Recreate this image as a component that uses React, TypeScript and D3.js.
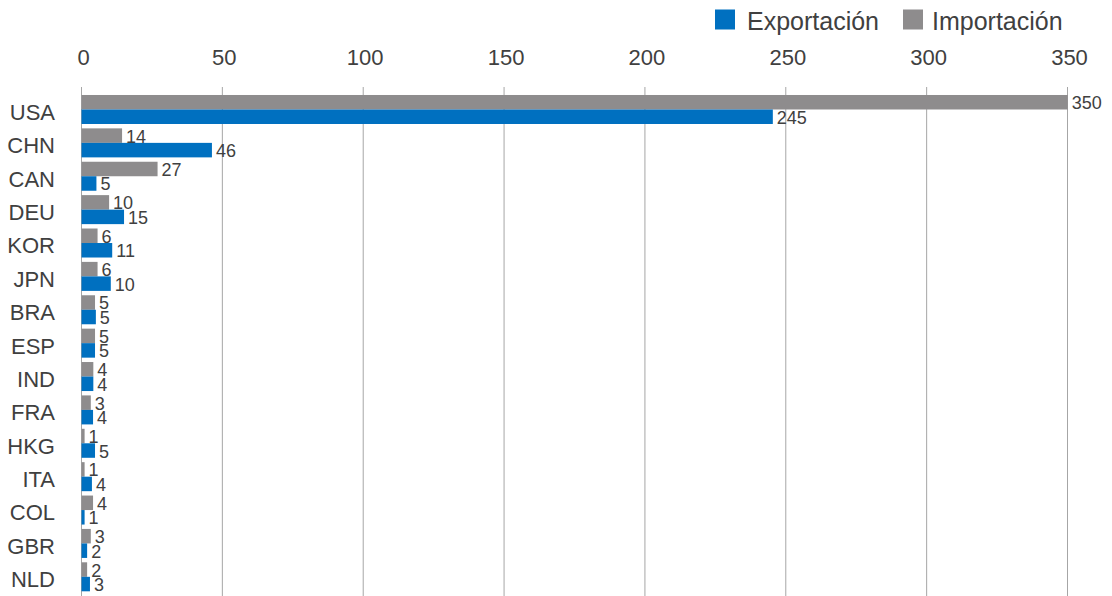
import React from "react";
import * as d3 from "d3";

const categories = ["USA", "CHN", "CAN", "DEU", "KOR", "JPN", "BRA", "ESP", "IND", "FRA", "HKG", "ITA", "COL", "GBR", "NLD"];
const importacion = [350.1, 14.4, 27.0, 9.8, 5.7, 5.7, 4.8, 4.8, 4.2, 3.3, 1.1, 1.1, 4.1, 3.3, 2.0];
const exportacion = [245.4, 46.3, 5.3, 15.1, 10.9, 10.4, 5.1, 4.8, 4.2, 4.1, 4.8, 3.7, 1.1, 2.0, 3.0];
const xTicks = [0, 50, 100, 150, 200, 250, 300, 350];
const seriesNames = ["Exportación", "Importación"];

const W = 1112;
const H = 596;
const BLUE = "#0070C0";
const GREY = "#8E8C8D";
const TEXT = "#404040";
const GRID = "#A6A6A6";
const FONT = "'Liberation Sans', Arial, sans-serif";

export default function App() {
  const x = d3.scaleLinear().domain([0, 350]).range([81.5, 1067.5]);
  const y = d3.scaleBand<string>().domain(categories).range([92.8, 92.8 + 15 * 33.38]).paddingInner(0.131).paddingOuter(0.0655);
  const sub = d3.scaleBand<string>().domain(["imp", "exp"]).range([0, y.bandwidth()]);

  return (
    <svg width={W} height={H} style={{ position: "absolute", left: 0, top: 0, background: "#fff" }} fontFamily={FONT}>
      {/* legend */}
      <rect x={715} y={9.5} width={20} height={20} fill={BLUE} />
      <text x={747} y={29.5} fontSize={25} fill={TEXT}>{seriesNames[0]}</text>
      <rect x={903} y={9.5} width={20} height={20} fill={GREY} />
      <text x={932} y={29.5} fontSize={25} fill={TEXT}>{seriesNames[1]}</text>

      {/* grid + ticks */}
      {xTicks.map((t) => (
        <g key={t}>
          <line x1={x(t)} x2={x(t)} y1={87} y2={H} stroke={GRID} strokeWidth={1} />
          <text x={x(t) + 2} y={65} fontSize={22} fill={TEXT} textAnchor="middle">{t}</text>
        </g>
      ))}

      {/* category labels */}
      {categories.map((c) => (
        <text key={c} x={55} y={(y(c) as number) + y.bandwidth() / 2 + 2.5} dy="0.36em" fontSize={22} fill={TEXT} textAnchor="end">{c}</text>
      ))}

      {/* bars */}
      {categories.map((c, i) => {
        const y0 = y(c) as number;
        const yi = y0 + (sub("imp") as number);
        const ye = y0 + (sub("exp") as number);
        const bh = sub.bandwidth();
        return (
          <g key={c}>
            <rect x={x(0)} y={yi} width={x(importacion[i]) - x(0)} height={bh} fill={GREY} />
            <rect x={x(0)} y={ye} width={x(exportacion[i]) - x(0)} height={bh} fill={BLUE} />
            <text x={x(importacion[i]) + 4} y={yi + bh / 2 + 0.5} dy="0.36em" fontSize={18} fill={TEXT}>{Math.round(importacion[i])}</text>
            <text x={x(exportacion[i]) + 4} y={ye + bh / 2 + 0.5} dy="0.36em" fontSize={18} fill={TEXT}>{Math.round(exportacion[i])}</text>
          </g>
        );
      })}
    </svg>
  );
}
